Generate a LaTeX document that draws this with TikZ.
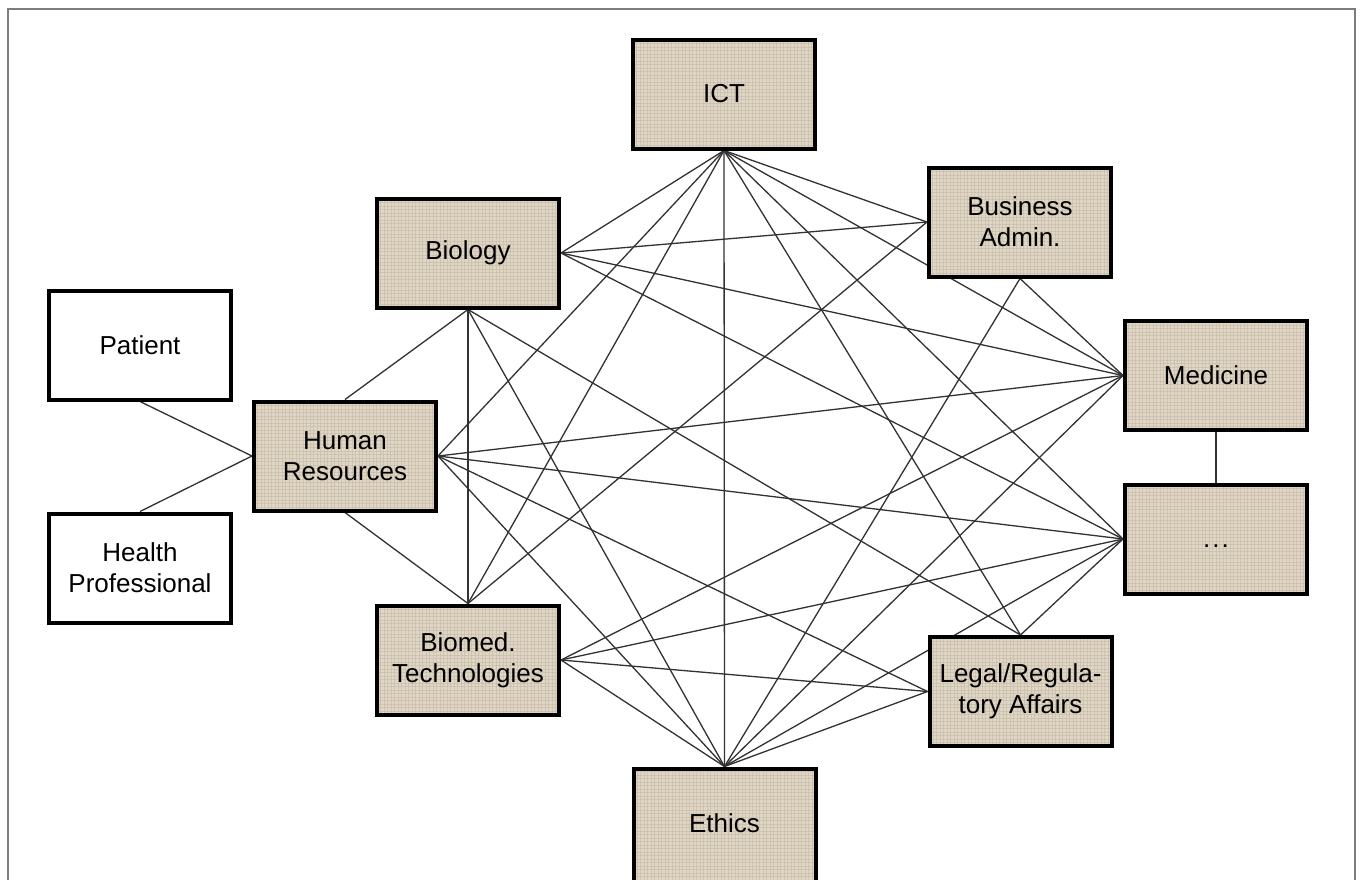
\documentclass[tikz,border=0pt]{standalone}
\usepackage{fontspec}
\setmainfont{Liberation Sans}
\usetikzlibrary{backgrounds}
\definecolor{burlap}{RGB}{223,214,198}
\definecolor{burlapdark}{RGB}{196,184,162}
\definecolor{linkgray}{RGB}{50,50,50}
\definecolor{framegray}{RGB}{125,125,125}
\tikzset{
  labelfont/.style={font=\fontsize{26}{31}\selectfont},
  weave/.style={path picture={
    \foreach \k in {0,3.5,...,190} {
      \draw[burlapdark, line width=0.6pt, opacity=0.55]
        ([xshift=\k pt]path picture bounding box.south west) --
        ([xshift=\k pt]path picture bounding box.north west);
    }
    \foreach \k in {0,3.5,...,125} {
      \draw[burlapdark, line width=0.6pt, opacity=0.55]
        ([yshift=\k pt]path picture bounding box.south west) --
        ([yshift=\k pt]path picture bounding box.south east);
    }
  }},
  box/.style={draw=black, line width=4pt, minimum width=182pt, minimum height=109pt,
    inner sep=0pt, align=center, labelfont},
  disc/.style={box, fill=burlap, weave},
  actor/.style={box, fill=white},
  link/.style={draw=linkgray, line width=1.3pt},
  framestyle/.style={draw=framegray, line width=2.5pt}
}
\begin{document}
\begin{tikzpicture}[x=1pt,y=-1pt]
\useasboundingbox (0,0) rectangle (1360,879);
\coordinate (fbl) at (8,885);
\coordinate (ftl) at (8,9);
\coordinate (ftr) at (1355,9);
\coordinate (fbr) at (1355,885);

\node[disc] (ict) at (724,94) {ICT};
\node[disc] (bus) at (1020,222) {Business\\Admin.};
\node[disc] (med) at (1216,375.5) {Medicine};
\node[disc] (dots) at (1216,539) {\raisebox{-8pt}[0pt][0pt]{.\kern2pt.\kern2pt.}};
\node[disc] (leg) at (1020.5,691.5) {Legal/Regula-\\tory Affairs};
\node[disc, minimum height=122pt] (eth) at (724.5,829.5) {};
\node[labelfont] (ethtext) at (724.5,823) {Ethics};
\node[disc] (bmt) at (468,660) {Biomed.\\Technologies};
\node[disc] (hr) at (345,456) {Human\\Resources};
\node[disc] (bio) at (468,253) {Biology};
\node[actor] (pat) at (140,345) {Patient};
\node[actor] (hp) at (140,568) {Health\\Professional};

\begin{scope}[on background layer]
  \fill[white] (0,0) rectangle (1360,879);
  \draw[framestyle] (fbl) -- (ftl) -- (ftr) -- (fbr);
  % ICT
  \draw[link] (ict.south) -- (bio.east);
  \draw[link] (ict.south) -- (hr.east);
  \draw[link] (ict.south) -- (bmt.north);
  \draw[link] (ict.south) -- (eth.north);
  \draw[link] (ict.south) -- (bus.west);
  \draw[link] (ict.south) -- (med.west);
  \draw[link] (ict.south) -- (dots.west);
  \draw[link] (ict.south) -- (leg.north);
  % Biology
  \draw[link] (bio.east) -- (bus.west);
  \draw[link] (bio.east) -- (med.west);
  \draw[link] (bio.east) -- (dots.west);
  \draw[link] (bio.south) -- (hr.north);
  \draw[link] (bio.south) -- (bmt.north);
  \draw[link] (bio.south) -- (eth.north);
  \draw[link] (bio.south) -- (leg.north);
  % Human Resources
  \draw[link] (hr.east) -- (med.west);
  \draw[link] (hr.east) -- (dots.west);
  \draw[link] (hr.east) -- (leg.west);
  \draw[link] (hr.east) -- (eth.north);
  \draw[link] (hr.south) -- (bmt.north);
  \draw[link] (pat.south) -- (hr.west);
  \draw[link] (hp.north) -- (hr.west);
  % Biomed
  \draw[link] (bmt.north) -- (bus.west);
  \draw[link] (bmt.east) -- (med.west);
  \draw[link] (bmt.east) -- (dots.west);
  \draw[link] (bmt.east) -- (leg.west);
  \draw[link] (bmt.east) -- (eth.north);
  % Business
  \draw[link] (bus.south) -- (med.west);
  \draw[link] (bus.south) -- (eth.north);
  % Ethics
  \draw[link] (eth.north) -- (med.west);
  \draw[link] (eth.north) -- (dots.west);
  \draw[link] (eth.north) -- (leg.west);
  % Legal, Medicine
  \draw[link] (leg.north) -- (dots.west);
  \draw[link] (med.south) -- (dots.north);
\end{scope}
\end{tikzpicture}
\end{document}
